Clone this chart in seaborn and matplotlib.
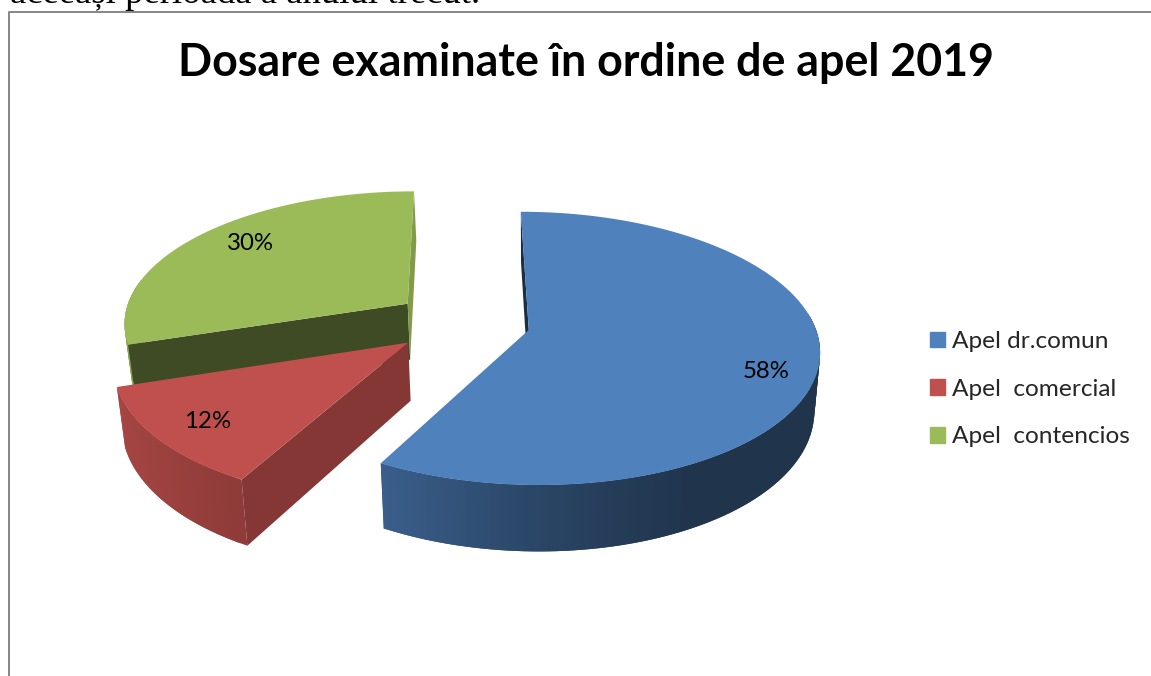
import numpy as np
import pandas as pd
import matplotlib
matplotlib.use('Agg')
import matplotlib.pyplot as plt
from matplotlib.patches import Patch
import seaborn as sns

# Chart data
title = 'Dosare examinate în ordine de apel 2019'
labels = ['Apel dr.comun', 'Apel  comercial', 'Apel  contencios']
shares = [58, 12, 30]
colors = ['#4f81bd', '#c0504d', '#9bbb59']
header_text = 'aceeași perioadă a anului trecut.'

# Look of the tilted pie (pixels)
CX, CY = 462, 322
RX, RY = 285, 132
EXPLODE = 0.24
PERSPECTIVE = 0.134
DEPTH = 57
label_pos = [(766, 372), (208, 422), (250, 243)]
# Darkening of each slice's two cut faces, None where the face is hidden
cut_shades = [(0.36, None), (0.69, None), (0.40, 0.83)]

sns.set_theme(style='white')
plt.rcParams['font.family'] = ['Lato', 'DejaVu Sans']


def project(theta, radius, mid):
    x = EXPLODE * np.sin(mid) + radius * np.sin(theta)
    y = EXPLODE * np.cos(mid) + radius * np.cos(theta)
    s = 1 / (1 + PERSPECTIVE * y)
    return CX + RX * x * s, CY - RY * y * s, s


def lower(px, py, s):
    return 530 + (px - 530) * 0.98, py + DEPTH * s


def shade(color, factor):
    return tuple(c * factor for c in matplotlib.colors.to_rgb(color))


def wall_factor(theta):
    return np.interp(np.sin(theta), [-1, -0.48, 0, 0.5, 1], [0.88, 0.74, 0.54, 0.40, 0.40])


def draw_cut(ax, theta, mid, color):
    ax0, ay0, s0 = project(theta, 0, mid)
    ax1, ay1, s1 = project(theta, 1, mid)
    bx0, by0 = lower(ax0, ay0, s0)
    bx1, by1 = lower(ax1, ay1, s1)
    ax.fill([ax0, ax1, bx1, bx0], [ay0, ay1, by1, by0], color=color, lw=0)


def draw_slice(ax, start, end, color, shades):
    mid = (start + end) / 2
    n = max(30, int((end - start) * 40))
    thetas = np.linspace(start, end, n)
    px, py, s = project(thetas, 1, mid)
    bx, by = lower(px, py, s)

    # Outer wall, front part only, each strip overlapping the next
    for i in range(n - 1):
        if np.cos(thetas[i]) > 0.15:
            continue
        j = min(i + 2, n - 1)
        c = shade(color, wall_factor(thetas[i]))
        ax.fill([px[i], px[j], bx[j], bx[i]],
                [py[i], py[j], by[j], by[i]], color=c, lw=0)

    if shades[0] is not None:
        draw_cut(ax, start, mid, shade(color, shades[0]))
    if shades[1] is not None:
        draw_cut(ax, end, mid, shade(color, shades[1]))

    fine = np.linspace(start, end, 300)
    fx, fy, _ = project(fine, 1, mid)
    ax0, ay0, _ = project(start, 0, mid)
    ax.fill(np.r_[ax0, fx], np.r_[ay0, fy], color=color, lw=0)


def main():
    data = pd.DataFrame({'label': labels, 'share': shares, 'color': colors})

    fig = plt.figure(figsize=(11.51, 6.76), dpi=100, facecolor='white')
    ax = fig.add_axes([0, 0, 1, 1])
    ax.set_xlim(0, 1151)
    ax.set_ylim(676, 0)
    ax.axis('off')

    # Cropped line of the page above the chart, and the chart border
    ax.text(10, 3, header_text, family='Liberation Serif', fontsize=26.5,
            color='black', va='baseline', ha='left', clip_on=True)
    ax.plot([9, 9, 1160], [690, 11.5, 11.5], color='#868686', lw=1.4)

    ax.text(586, 63, title, fontsize=32.2, fontweight='bold', color='black',
            ha='center', va='center')

    angles = np.r_[0, np.cumsum(data['share'])] / 100 * 2 * np.pi
    # Draw back to front: green, red, blue
    for i in [2, 1, 0]:
        draw_slice(ax, angles[i], angles[i + 1], data['color'][i], cut_shades[i])

    for share, (x, y) in zip(data['share'], label_pos):
        ax.text(x, y, f'{share}%', fontsize=17.3, color='black', ha='center', va='center')

    handles = [Patch(color=c, label=l) for c, l in zip(data['color'], data['label'])]
    ax.legend(handles=handles, loc='upper left', bbox_to_anchor=(930 / 1151, 1 - 331 / 676),
              frameon=False, fontsize=17.6, handlelength=0.61, handleheight=0.61,
              handletextpad=0.29, labelspacing=1.09, borderpad=0, borderaxespad=0)

    fig.savefig('out.png', dpi=100)


if __name__ == '__main__':
    main()
